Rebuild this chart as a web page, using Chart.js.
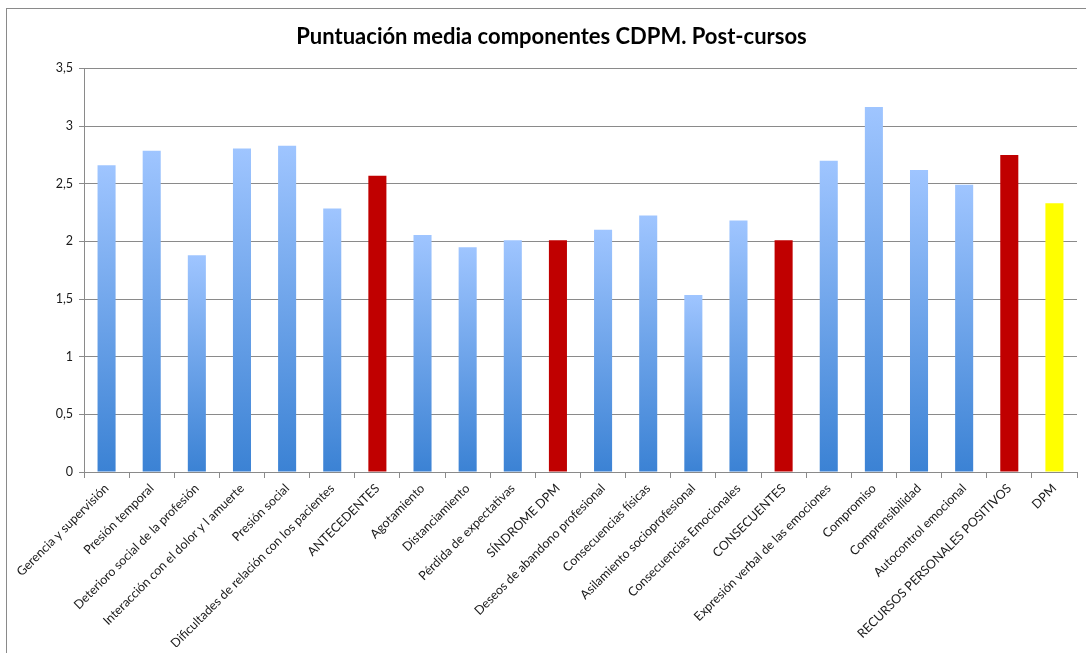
<!DOCTYPE html>
<html>
<head>
<meta charset="utf-8">
<script src="https://cdn.jsdelivr.net/npm/chart.js@4"></script>
<style>
  html, body { margin: 0; padding: 0; background: #fff; }
  #wrap { position: relative; width: 1086px; height: 653px; }
  #frame { position: absolute; left: 6px; top: 8px; width: 1090px; height: 660px;
           border-left: 1px solid #8a8a8a; border-top: 1px solid #8a8a8a; }
  canvas { position: absolute; left: 0; top: 0; }
</style>
</head>
<body>
<div id="wrap">
  <div id="frame"></div>
  <canvas id="chart" width="1086" height="653"></canvas>
</div>
<script>
// categories
const categories = [
  "Gerencia y supervisión", "Presión temporal", "Deterioro social de la profesión",
  "Interacción con el dolor y l amuerte", "Presión social",
  "Dificultades de relación con los pacientes", "ANTECEDENTES", "Agotamiento",
  "Distanciamiento", "Pérdida de expectativas", "SÍNDROME DPM",
  "Deseos de abandono profesional", "Consecuencias físicas",
  "Asilamiento socioprofesional", "Consecuencias Emocionales", "CONSECUENTES",
  "Expresión verbal de las emociones", "Compromiso", "Comprensibilidad",
  "Autocontrol emocional", "RECURSOS PERSONALES POSITIVOS", "DPM"
];

// mean scores
const scores = [
  2.66, 2.785, 1.88, 2.805, 2.83, 2.285, 2.57, 2.055, 1.95, 2.01, 2.01,
  2.10, 2.225, 1.535, 2.18, 2.01, 2.70, 3.165, 2.62, 2.49, 2.75, 2.33
];

// c = component, s = section total, g = global
const kinds = [
  "c", "c", "c", "c", "c", "c", "s", "c", "c", "c", "s",
  "c", "c", "c", "c", "s", "c", "c", "c", "c", "s", "g"
];

const yTickLabels = ["0", "0,5", "1", "1,5", "2", "2,5", "3", "3,5"];

function barColor(ctx) {
  const k = kinds[ctx.dataIndex];
  if (k === "s") return "#c00000";
  if (k === "g") return "#ffff00";
  const chart = ctx.chart;
  const y = chart.scales && chart.scales.y;
  if (!chart.chartArea || !y) return "#7fb0f0";
  const top = y.getPixelForValue(scores[ctx.dataIndex]);
  const base = y.getPixelForValue(0);
  const g = chart.ctx.createLinearGradient(0, top, 0, base);
  g.addColorStop(0, "#9fc5ff");
  g.addColorStop(1, "#3b82d4");
  return g;
}

new Chart(document.getElementById("chart"), {
  type: "bar",
  data: {
    labels: categories,
    datasets: [{
      data: scores,
      backgroundColor: barColor,
      borderWidth: 0,
      barPercentage: 0.8,
      categoryPercentage: 0.5
    }]
  },
  options: {
    responsive: false,
    animation: false,
    layout: { padding: { left: 26, right: 9, top: 0, bottom: 6 } },
    plugins: {
      legend: { display: false },
      tooltip: { enabled: false },
      title: {
        display: true,
        text: "Puntuación media componentes CDPM. Post-cursos",
        color: "#000",
        font: { family: "Lato", size: 22, weight: "bold", lineHeight: 1.2 },
        padding: { top: 24, bottom: 18 }
      }
    },
    scales: {
      x: {
        grid: { display: true, drawOnChartArea: false, offset: true, color: "#8a8a8a", tickLength: 6 },
        border: { color: "#8a8a8a" },
        ticks: {
          autoSkip: false, maxRotation: 45, minRotation: 45, padding: 3,
          color: "#1a1a1a", font: { family: "Lato", size: 12.5 }
        },
        afterFit: s => { s.height = 175; }
      },
      y: {
        min: 0, max: 3.5,
        grid: { color: "#8a8a8a", tickLength: 5 },
        border: { color: "#8a8a8a" },
        ticks: {
          stepSize: 0.5, padding: 6,
          color: "#1a1a1a", font: { family: "Lato", size: 12.5 },
          callback: (v, i) => yTickLabels[i]
        },
        afterFit: s => { s.width = 58; }
      }
    }
  }
});
</script>
</body>
</html>
